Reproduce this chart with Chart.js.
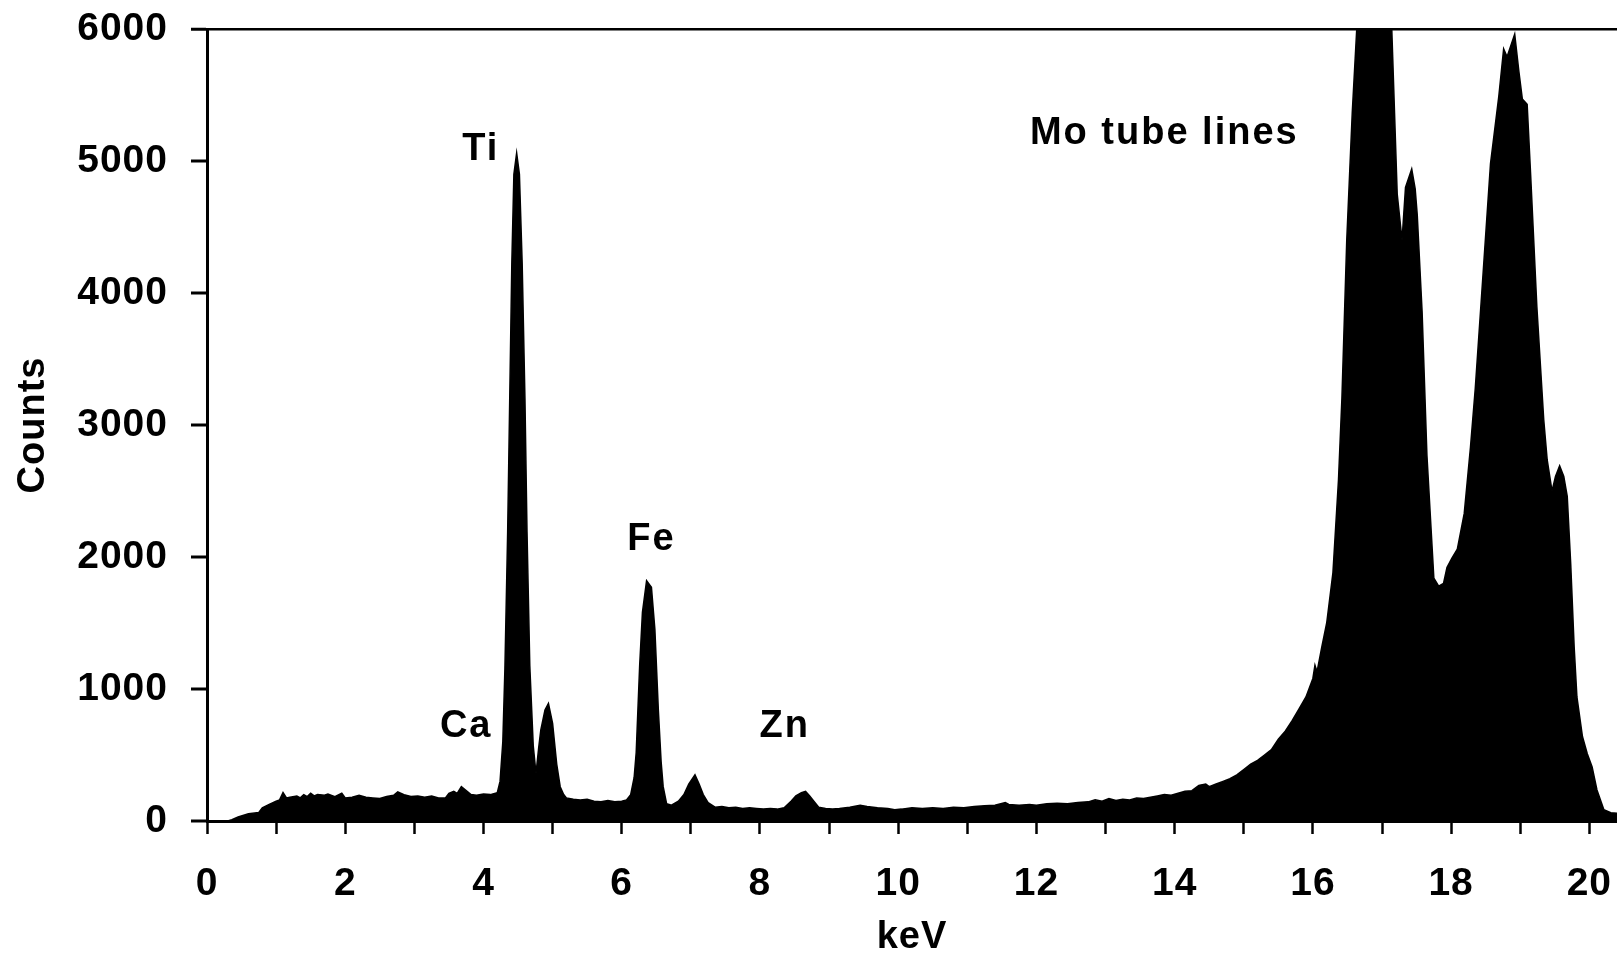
<!DOCTYPE html>
<html>
<head>
<meta charset="utf-8">
<script src="https://cdn.jsdelivr.net/npm/chart.js@4.4.1/dist/chart.umd.min.js"></script>
<style>
  html, body { margin: 0; padding: 0; background: #fff; }
  #c { display: block; }
</style>
</head>
<body>
<canvas id="c" width="1617" height="957"></canvas>
<script>
// ---- data ----
const energies = [
  0.0, 0.3, 0.36, 0.45, 0.6, 0.75, 0.8, 0.9, 1.0, 1.05, 1.1, 1.15, 1.2, 1.3, 1.35, 1.4, 1.45, 1.5, 1.55, 1.6,
  1.7, 1.75, 1.85, 1.95, 2.0, 2.1, 2.2, 2.3, 2.4, 2.5, 2.6, 2.7, 2.76, 2.85, 2.95, 3.05, 3.15, 3.25, 3.35, 3.45,
  3.5, 3.57, 3.62, 3.68, 3.75, 3.82, 3.9, 4.0, 4.1, 4.2, 4.24, 4.28, 4.31, 4.35, 4.38, 4.41, 4.44, 4.48, 4.52, 4.56,
  4.6, 4.63, 4.67, 4.72, 4.76, 4.8, 4.83, 4.89, 4.94, 5.0, 5.06, 5.11, 5.16, 5.2, 5.3, 5.4, 5.5, 5.6, 5.7, 5.8,
  5.9, 6.0, 6.07, 6.13, 6.18, 6.21, 6.26, 6.3, 6.36, 6.43, 6.48, 6.53, 6.57, 6.6, 6.65, 6.72, 6.82, 6.9, 6.97, 7.06,
  7.12, 7.18, 7.25, 7.35, 7.45, 7.55, 7.65, 7.75, 7.85, 7.95, 8.05, 8.15, 8.25, 8.35, 8.45, 8.52, 8.6, 8.66, 8.72, 8.78,
  8.85, 8.95, 9.05, 9.15, 9.3, 9.45, 9.55, 9.7, 9.85, 9.95, 10.05, 10.2, 10.35, 10.5, 10.65, 10.8, 10.95, 11.1, 11.25, 11.4,
  11.55, 11.6, 11.75, 11.9, 12.0, 12.15, 12.3, 12.45, 12.6, 12.75, 12.85, 12.95, 13.05, 13.15, 13.25, 13.35, 13.45, 13.55, 13.65, 13.75,
  13.85, 13.95, 14.05, 14.15, 14.25, 14.35, 14.45, 14.5, 14.6, 14.7, 14.8, 14.9, 15.0, 15.1, 15.2, 15.3, 15.4, 15.5, 15.6, 15.7,
  15.8, 15.9, 16.0, 16.03, 16.06, 16.13, 16.2, 16.29, 16.37, 16.42, 16.49, 16.57, 16.64, 16.75, 16.9, 17.05, 17.14, 17.22, 17.29, 17.34,
  17.43, 17.48, 17.51, 17.58, 17.65, 17.75, 17.82, 17.89, 17.94, 18.01, 18.09, 18.19, 18.28, 18.35, 18.45, 18.57, 18.69, 18.76, 18.81, 18.92,
  18.98, 19.03, 19.1, 19.15, 19.24, 19.34, 19.39, 19.46, 19.51, 19.57, 19.63, 19.68, 19.73, 19.78, 19.82, 19.9, 19.97, 20.04, 20.11, 20.21,
  20.31, 20.4
];
const counts = [
  0, 0, 10, 30, 55, 65, 100, 125, 150, 160, 215, 175, 180, 190, 175, 200, 185, 210, 190, 200,
  195, 205, 185, 210, 175, 180, 195, 180, 175, 170, 185, 195, 220, 200, 185, 190, 180, 190, 175, 175,
  210, 225, 210, 260, 230, 200, 195, 205, 200, 215, 300, 600, 1150, 2190, 3200, 4220, 4900, 5060, 4900, 4220,
  3200, 2190, 1177, 570, 360, 560, 690, 840, 890, 740, 430, 260, 200, 175, 165, 160, 165, 150, 145, 155,
  145, 150, 160, 200, 330, 520, 1180, 1580, 1820, 1770, 1450, 840, 450, 260, 130, 120, 150, 200, 280, 350,
  280, 200, 140, 105, 110, 100, 105, 95, 100, 95, 90, 95, 90, 100, 150, 190, 215, 225, 190, 150,
  105, 95, 90, 95, 105, 120, 110, 100, 95, 85, 90, 100, 95, 100, 95, 105, 100, 110, 115, 120,
  140, 125, 120, 125, 120, 130, 135, 130, 140, 145, 160, 150, 170, 155, 165, 160, 175, 170, 180, 190,
  200, 195, 210, 225, 230, 270, 280, 260, 280, 300, 320, 350, 390, 430, 460, 500, 540, 620, 680, 760,
  850, 940, 1080, 1180, 1130, 1320, 1500, 1880, 2580, 3200, 4400, 5370, 6050, 6600, 6900, 6500, 6020, 4750, 4400, 4800,
  4940, 4790, 4590, 3860, 2770, 1840, 1780, 1800, 1920, 1990, 2060, 2330, 2830, 3280, 4050, 4980, 5490, 5850, 5790, 5960,
  5680, 5470, 5430, 4900, 3900, 3040, 2735, 2500, 2610, 2690, 2610, 2460, 1950, 1320, 940, 640, 510, 410, 235, 85,
  63, 58
];
const xTicks = [0,1,2,3,4,5,6,7,8,9,10,11,12,13,14,15,16,17,18,19,20];
const yTicks = [0,1000,2000,3000,4000,5000,6000];
const xMin = 0, xMax = 20.4, yMin = 0, yMax = 6000;

const annotLabels = ['Ti', 'Fe', 'Ca', 'Zn', 'Mo tube lines'];
const annotKeV    = [3.96, 6.43, 3.75, 8.36, 13.85];
const annotCounts = [5090, 2135, 715, 715, 5210];

// ---- chart ----
const FONT = '"Liberation Sans", Arial, Helvetica, sans-serif';
Chart.defaults.color = '#000';
Chart.defaults.font.family = FONT;
Chart.defaults.font.weight = 'bold';
Chart.defaults.font.size = 38;

const spacingPlugin = {
  id: 'spacing',
  beforeLayout(chart) { chart.ctx.letterSpacing = '1px'; },
  beforeDraw(chart) { chart.ctx.letterSpacing = '1px'; }
};

const annotPlugin = {
  id: 'annot',
  afterDatasetsDraw(chart) {
    const {ctx, scales} = chart;
    ctx.save();
    ctx.letterSpacing = '2px';
    ctx.fillStyle = '#000';
    ctx.font = 'bold 38px ' + FONT;
    ctx.textAlign = 'center';
    ctx.textBaseline = 'middle';
    annotLabels.forEach((t, i) => {
      ctx.fillText(t, scales.x.getPixelForValue(annotKeV[i]), scales.y.getPixelForValue(annotCounts[i]));
    });
    ctx.restore();
  }
};

new Chart(document.getElementById('c'), {
  type: 'line',
  data: {
    datasets: [{
      data: energies.map((e, i) => ({x: e, y: counts[i]})),
      borderColor: '#000',
      backgroundColor: '#000',
      borderWidth: 1.5,
      pointRadius: 0,
      tension: 0,
      fill: 'origin'
    }]
  },
  options: {
    responsive: false,
    animation: false,
    events: [],
    layout: { padding: { top: 29, left: 0, right: 0, bottom: 0 } },
    plugins: { legend: { display: false }, tooltip: { enabled: false } },
    scales: {
      x: {
        type: 'linear',
        min: xMin, max: xMax,
        afterBuildTicks: (s) => { s.ticks = xTicks.map(v => ({value: v})); },
        afterFit: (s) => { s.height = 136; s.paddingLeft = 0; s.paddingRight = 0; },
        border: { display: true, color: '#000', width: 3 },
        grid: { drawOnChartArea: false, drawTicks: true, tickLength: 13, tickWidth: 2.5, tickColor: '#000' },
        ticks: {
          autoSkip: false, maxRotation: 0, padding: 27,
          font: { size: 39, weight: 'bold' },
          callback: (v) => (v % 2 === 0 ? String(v) : '')
        },
        title: { display: true, text: 'keV', padding: { top: 0, bottom: 0 }, font: { size: 38, weight: 'bold', lineHeight: 1.0 } }
      },
      y: {
        min: yMin, max: yMax,
        afterBuildTicks: (s) => { s.ticks = yTicks.map(v => ({value: v})); },
        afterFit: (s) => { s.width = 207; s.paddingTop = 0; s.paddingBottom = 0; },
        border: { display: true, color: '#000', width: 3 },
        grid: {
          drawOnChartArea: true, drawTicks: true, tickLength: 16, tickWidth: 3, tickColor: '#000',
          color: (c) => (c.tick && c.tick.value === yMax ? '#000' : 'rgba(0,0,0,0)'),
          lineWidth: (c) => (c.tick && c.tick.value === yMax ? 2.5 : 0)
        },
        ticks: { padding: 23, font: { size: 39, weight: 'bold' }, callback: (v) => String(v) },
        title: { display: true, text: 'Counts', padding: { top: 11, bottom: 0 }, font: { size: 38, weight: 'bold' } }
      }
    }
  },
  plugins: [spacingPlugin, annotPlugin]
});
</script>
</body>
</html>
